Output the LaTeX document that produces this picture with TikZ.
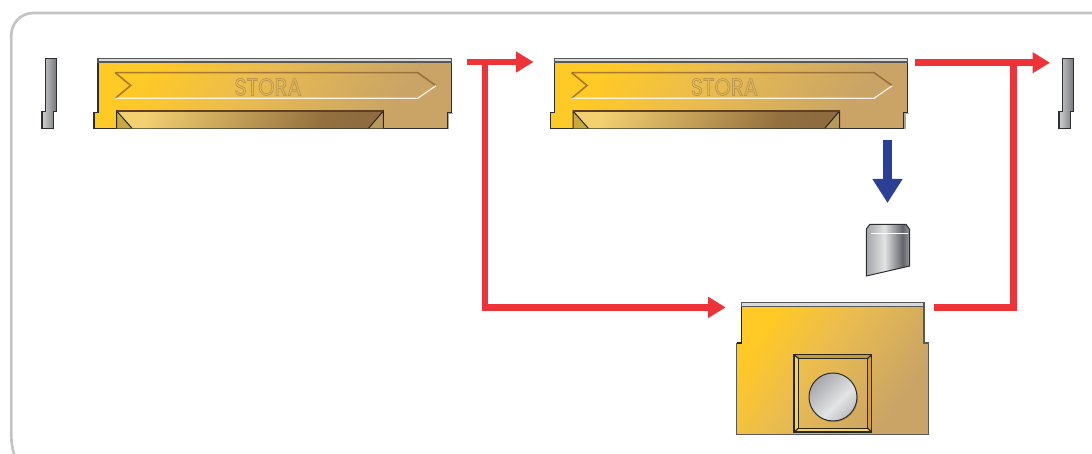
\documentclass[tikz,border=0pt]{standalone}
\usepackage{fontspec}
\usetikzlibrary{arrows.meta}
\newfontfamily\storafont{Poppins}
\definecolor{frameg}{HTML}{C4C4C4}
\definecolor{redl}{HTML}{EE3338}
\definecolor{bluel}{HTML}{2B3F96}
\definecolor{edgeg}{HTML}{2E2E30}
\definecolor{stripeg}{HTML}{D9DADB}
\definecolor{gA}{HTML}{FFC926}
\definecolor{gB}{HTML}{EABC50}
\definecolor{gC}{HTML}{C9A466}
\definecolor{wA}{HTML}{F3D070}
\definecolor{wB}{HTML}{94703F}
\definecolor{wC}{HTML}{8E6C40}
\definecolor{sA}{HTML}{C9A93C}
\definecolor{sB}{HTML}{B59A58}
\definecolor{pA}{HTML}{CFD0D2}
\definecolor{pB}{HTML}{77787C}
\definecolor{kA}{HTML}{A4A5A8}
\definecolor{kB}{HTML}{E2E3E5}
\definecolor{kC}{HTML}{64656A}
\definecolor{kD}{HTML}{9A9B9E}
\definecolor{cA}{HTML}{A6A7AA}
\definecolor{cB}{HTML}{E3E4E6}
\definecolor{cC}{HTML}{BDBEC0}
\definecolor{logoc}{HTML}{BC9750}
\definecolor{bevT}{HTML}{C79B2E}
\definecolor{bevR}{HTML}{D4A02E}
\definecolor{bevB}{HTML}{FBD34C}
\definecolor{bevL}{HTML}{F2D35F}
\pgfdeclarehorizontalshading{goldsh}{100bp}{color(0bp)=(gA);color(26bp)=(gA);color(45bp)=(gB);color(72bp)=(gC);color(100bp)=(gC)}
\pgfdeclarehorizontalshading{winsh}{100bp}{color(0bp)=(wA);color(25bp)=(wA);color(67bp)=(wB);color(75bp)=(wC);color(100bp)=(wC)}
\pgfdeclarehorizontalshading{pinsh}{100bp}{color(0bp)=(pA);color(25bp)=(pA);color(75bp)=(pB);color(100bp)=(pB)}
\pgfdeclarehorizontalshading{knifesh}{100bp}{color(0bp)=(kA);color(25bp)=(kA);color(46bp)=(kB);color(67bp)=(kC);color(75bp)=(kD);color(100bp)=(kD)}
\pgfdeclarehorizontalshading{discsh}{100bp}{color(0bp)=(cA);color(25bp)=(cA);color(58bp)=(cB);color(75bp)=(cC);color(100bp)=(cC)}
\tikzset{
  x=1pt,y=-1pt,
  goldbody/.style={shading=goldsh,shading angle=-35},
  windowbody/.style={shading=winsh,shading angle=-20},
  pinbody/.style={shading=pinsh,shading angle=0},
  outline/.style={draw=edgeg,line width=1.2pt,line join=miter},
  stripe/.style={fill=stripeg,draw=edgeg!80,line width=1.2pt},
  redline/.style={draw=redl,line width=6.5pt,line join=miter},
  redarrow/.style={redline,-{Triangle[length=17.5pt,width=20pt]}},
  bluearrow/.style={draw=bluel,line width=9pt,-{Triangle[length=24pt,width=28.5pt]}},
  bandup/.style={draw=brown!70!black,draw opacity=.7,line width=1.6pt},
  banddown/.style={draw=white,draw opacity=.85,line width=1.2pt},
  logotext/.style={text=logoc,inner sep=0pt,transform shape,yscale=1.15,font=\storafont\fontsize{21}{21}\selectfont},
  bevelline/.style={draw=black!85,line width=1.2pt,line join=miter},
}
\newcommand{\goldslab}[2]{%
\begin{scope}[shift={(#1,0)}]
  \path[goldbody] (98,62) -- (451.3,62) -- (451.3,112.7) -- (447.3,112.7) -- (447.3,128.5) -- (94,128.5) -- (94,112.7) -- (98,112.7) -- cycle;
  \draw[draw=gray!70,line width=1.6pt] (452.6,113.4) -- (448.6,113.4) -- (448.6,129);
  \draw[outline] (98,62) -- (98,112.7) -- (94,112.7) -- (94,128.5) -- (447.3,128.5) -- (447.3,112.7) -- (451.3,112.7) -- (451.3,62);
  \path[stripe] (98,58.5) rectangle (451.3,62);
  % window
  \path[windowbody] (116.7,111) -- (383.3,111) -- (368.5,128.3) -- (132,128.3) -- cycle;
  \fill[sA] (116.7,111) -- (132,128.3) -- (116.7,128.3) -- cycle;
  \fill[sB] (383.3,111) -- (368.5,128.3) -- (383.3,128.3) -- cycle;
  \draw[draw=black!85,line width=1pt] (132,128.3) -- (116.7,111) -- (116.7,128.3);
  \draw[draw=black!85,line width=1pt] (368.5,128.3) -- (383.3,111) -- (383.3,128.3);
  \draw[draw=brown!50!black,line width=1.4pt] (116.7,111) -- (383.3,111);
  % banner
  \draw[bandup] (115.3,72.7) -- (130.7,85.5) -- (115.3,98.3);
  \draw[bandup] (115.3,72.7) -- (417.7,72.7) -- (436,85.7);
  \draw[banddown] (115.3,98.3) -- (417.7,98.3) -- (436,85.7);
  \node[logotext] (#2) at (268,87) {\special{pdf:code 1 Tr 0.7 w}STORA\special{pdf:code 0 Tr}};
\end{scope}}
\newcommand{\sidepin}[1]{%
\begin{scope}[shift={(#1,0)}]
  \path[pinbody,outline] (45.3,58.5) -- (56.3,58.5) -- (56.3,111.5) -- (53.3,111.5) -- (53.3,128.3) -- (42,128.3) -- (42,111.5) -- (45.3,111.5) -- cycle;
\end{scope}}
\begin{document}
\begin{tikzpicture}
\useasboundingbox (0,0) rectangle (1092,454);
\draw[frameg,line width=2.7pt] (14,454) .. controls (12,447) and (11.3,442) .. (11.3,436) -- (11.3,35) arc[start angle=180,end angle=90,x radius=22,y radius=-22] -- (1092,13);

\sidepin{0}
\goldslab{0}{logoa}
\goldslab{456.3}{logob}
\sidepin{1017}

% cutter
\path[shading=knifesh,shading angle=0] (866.3,229) -- (870,224.3) -- (906,224.3) -- (909.7,229.5) -- (909.7,266) -- (866.3,276) -- cycle;
\draw[draw=edgeg,line width=1pt] (909.7,266) -- (866.3,276) -- (866.3,229) -- (870,224.3) -- (906,224.3) -- (909.7,229.5) -- (909.7,266);
\draw[white,line width=1pt] (871,233.3) -- (908,233.3);

% third block
\path[goldbody] (741.3,306.7) -- (924,306.7) -- (924,343) -- (928.3,343) -- (928.3,434.7) -- (736.7,434.7) -- (736.7,343) -- (741.3,343) -- cycle;
\draw[draw=black!85,line width=1.1pt] (741.3,306.7) -- (741.3,343) -- (736.7,343);
\draw[draw=black!65,line width=1.1pt] (736.7,343) -- (736.7,434.7) -- (928.3,434.7) -- (928.3,343) -- (924,343) -- (924,306.7);
\path[stripe] (741.3,302.7) rectangle (924,306.7);
% square bevel
\fill[bevT] (794,354.7) -- (871.7,354.7) -- (867.7,358.3) -- (798.3,358.3) -- cycle;
\fill[bevR] (871.7,354.7) -- (871.7,432) -- (867.7,428.3) -- (867.7,358.3) -- cycle;
\fill[bevB] (794,432) -- (871.7,432) -- (867.7,428.3) -- (798.3,428.3) -- cycle;
\fill[bevL] (794,354.7) -- (794,432) -- (798.3,428.3) -- (798.3,358.3) -- cycle;
\draw[bevelline] (794,354.7) rectangle (871.7,432);
\draw[bevelline] (798.3,358.3) rectangle (867.7,428.3);
\draw[bevelline] (794,354.7) -- (798.3,358.3) (871.7,354.7) -- (867.7,358.3) (794,432) -- (798.3,428.3) (871.7,432) -- (867.7,428.3);
% disc
\fill[brown!70!black,opacity=.35] (833.8,398) circle[radius=24.2];
\path[shading=discsh,shading angle=-45] (833,397) circle[radius=24];
\draw[draw=edgeg,line width=1pt] (833,397) circle[radius=24];

% connectors
\coordinate (r1s) at (467,62);
\coordinate (r1e) at (533.5,62);
\coordinate (r1b) at (485,62);
\coordinate (r2e) at (725.7,307.4);
\coordinate (r3s) at (915.3,62.7);
\coordinate (r3e) at (1050,62.7);
\coordinate (r3b) at (1013.5,62.7);
\coordinate (r4s) at (934,307.7);
\coordinate (b1s) at (887.5,140);
\coordinate (b1e) at (887.5,203);
\draw[redarrow] (r1s) -- (r1e);
\draw[redarrow] (r1b) |- (r2e);
\draw[redarrow] (r3s) -- (r3e);
\draw[redline] (r4s) -| (r3b);
\draw[bluearrow] (b1s) -- (b1e);
\end{tikzpicture}
\end{document}
